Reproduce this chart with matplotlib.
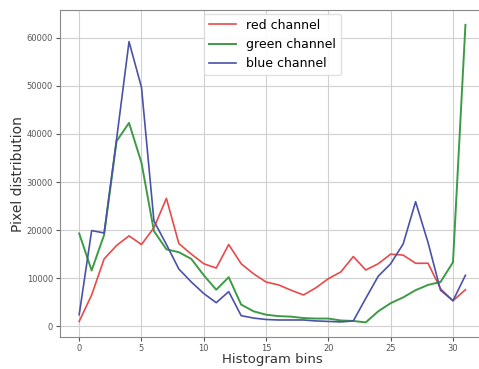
import numpy as np
import matplotlib
matplotlib.use("Agg")
import matplotlib.pyplot as plt

bins = np.arange(32)

red = [1000, 6500, 14000, 16800, 18800, 17000, 20500, 26600, 17200, 15000,
       13000, 12100, 17000, 13000, 10900, 9200, 8600, 7500, 6500, 8000,
       9900, 11300, 14500, 11700, 13000, 15000, 14800, 13100, 13100, 7800,
       5300, 7600]
green = [19300, 11600, 19000, 38500, 42300, 34000, 19800, 16000, 15400, 14000,
         10600, 7600, 10200, 4500, 3100, 2400, 2100, 2000, 1700, 1600,
         1600, 1200, 1100, 800, 3100, 4800, 6000, 7500, 8600, 9200,
         13300, 62700]
blue = [2400, 19900, 19400, 38900, 59200, 49700, 21900, 17000, 11900, 9200,
        6800, 4900, 7200, 2200, 1700, 1400, 1300, 1300, 1300, 1100,
        1000, 900, 1100, 5800, 10400, 13000, 17100, 25900, 17400, 7500,
        5300, 10600]

fig = plt.figure(figsize=(4.79, 3.69), dpi=100)
ax = fig.add_axes([0.125, 0.086, 0.887, 0.887])

ax.plot(bins, red, color="#e84a4a", lw=1.2, label="red channel")
ax.plot(bins, green, color="#3d9a45", lw=1.4, label="green channel")
ax.plot(bins, blue, color="#4a52a8", lw=1.2, label="blue channel")

ax.grid(True, color="#d0d0d0", lw=0.8)
ax.set_xticks([0, 5, 10, 15, 20, 25, 30])
ax.set_yticks([0, 10000, 20000, 30000, 40000, 50000, 60000])
ax.tick_params(labelsize=6, colors="#555555", length=3, pad=2)
for s in ax.spines.values():
    s.set_color("#888888")

ax.set_xlabel("Histogram bins", fontsize=9.5, color="#333333", labelpad=0)
ax.set_ylabel("Pixel distribution", fontsize=10, color="#333333", labelpad=1)
ax.legend(loc="upper center", fontsize=9, bbox_to_anchor=(0.5, 1.0),
          framealpha=0.9, edgecolor="#dddddd", handlelength=2.2,
          borderaxespad=0.3)

fig.savefig("out.png", dpi=100)
